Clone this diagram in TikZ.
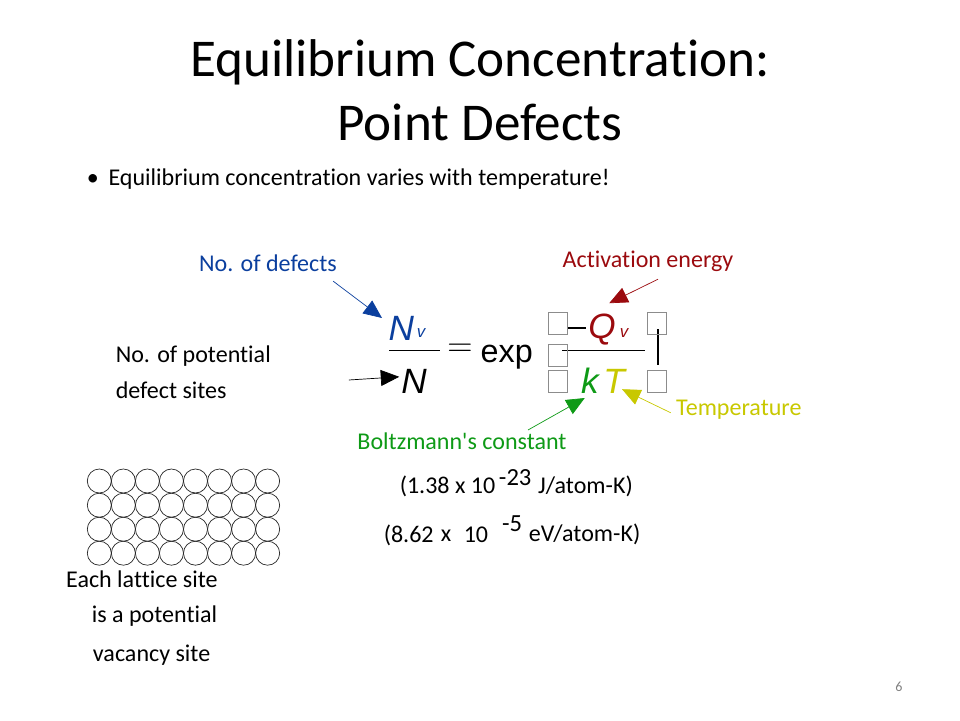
\documentclass[tikz,border=0pt]{standalone}
\usepackage{fontspec}
\setmainfont[Ligatures=NoCommon]{Carlito}
\newfontfamily\eqnfont{Liberation Sans}
\usetikzlibrary{arrows.meta}
\definecolor{defblue}{HTML}{0B3F9E}
\definecolor{actred}{HTML}{9B0A0E}
\definecolor{boltzgreen}{HTML}{0E9A16}
\definecolor{tempyellow}{HTML}{C8C800}
\tikzset{
  titletext/.style={font=\fontsize{37.8}{44}\selectfont},
  bodytext/.style={font=\fontsize{17.1}{20}\selectfont},
  eqnbig/.style={font=\eqnfont\itshape\fontsize{25}{29}\selectfont},
  eqnsub/.style={font=\eqnfont\itshape\fontsize{12}{14}\selectfont},
  tofubox/.style={draw=gray!90,line width=0.5pt,minimum width=0.47cm,minimum height=0.56cm,inner sep=0pt},
  site/.style={draw=black!85,line width=0.5pt,circle,minimum size=0.6cm,inner sep=0pt},
  pointer/.style={-{Triangle[length=0.46cm,width=0.4cm]},line width=0.5pt},
}
\begin{document}
\begin{tikzpicture}
\useasboundingbox (0,0) rectangle (24,18);
%---------------------------------------------------
\node[titletext] (titleA) at (12,16.43) {Equilibrium Concentration:};
\node[titletext] (titleB) at (12,14.95) {Point Defects};
\node[bodytext,anchor=west] (bullet) at (2.05,13.52) {•\hspace{0.24cm}Equilibrium concentration varies with temperature!};
%---------------------------------------------------
\node[bodytext,color=defblue] (ndef) at (6.7,11.43) {No. of defects};
\node[bodytext,color=actred] (aen) at (16.2,11.47) {Activation energy};
\node[bodytext,color=tempyellow] (tmp) at (18.47,7.75) {Temperature};
\node[bodytext,color=boltzgreen] (bol) at (11.55,6.98) {Boltzmann\textquotesingle s constant};
\node[bodytext,anchor=west] (potA) at (2.77,9.11) {No. of potential};
\node[bodytext,anchor=west] (potB) at (2.77,8.24) {defect sites};
%---------------------------------------------------
\node[eqnbig,color=defblue] (nv) at (10.03,9.78) {N};
\node[eqnsub,color=defblue] (nvs) at (10.53,9.68) {v};
\node[eqnbig] (nn) at (10.35,8.47) {N};
\node[eqnbig,color=actred] (qv) at (15.05,9.76) {Q};
\node[eqnsub,color=actred] (qvs) at (15.6,9.68) {v};
\node[eqnbig,color=boltzgreen] (kk) at (14.75,8.47) {k};
\node[eqnbig,color=tempyellow] (tt) at (15.35,8.47) {T};
\node[font=\fontsize{24}{28}\selectfont] (eq) at (11.5,9.25) {$=$};
\node[font=\eqnfont\fontsize{23}{27}\selectfont] (ex) at (12.67,9.08) {exp};
\coordinate (nbarL) at (9.73,9.23);
\coordinate (nbarR) at (11,9.23);
\draw[line width=0.5pt] (nbarL) -- (nbarR);
\coordinate (qbarL) at (14.05,9.23);
\coordinate (qbarR) at (16.13,9.23);
\draw[line width=0.5pt] (qbarL) -- (qbarR);
\coordinate (minL) at (14.2,9.8);
\coordinate (minR) at (14.65,9.8);
\draw[line width=0.9pt] (minL) -- (minR);
\coordinate (vertT) at (16.45,9.77);
\coordinate (vertB) at (16.45,8.87);
\draw[line width=0.9pt] (vertT) -- (vertB);
%---------------------------------------------------
\node[tofubox] (boxA) at (13.95,9.92) {};
\node[tofubox] (boxB) at (13.95,9.12) {};
\node[tofubox] (boxC) at (13.95,8.47) {};
\node[tofubox] (boxD) at (16.42,9.92) {};
\node[tofubox] (boxE) at (16.42,8.47) {};
%---------------------------------------------------
\coordinate (ndefS) at (8.33,10.97);
\coordinate (nvT) at (9.55,10.05);
\draw[pointer,color=defblue] (ndefS) -- (nvT);
\coordinate (aenS) at (16.45,11.02);
\coordinate (aenT) at (15.23,10.42);
\draw[pointer,color=actred] (aenS) -- (aenT);
\coordinate (tmpS) at (16.77,7.68);
\coordinate (tmpT) at (15.55,8.27);
\draw[pointer,color=tempyellow] (tmpS) -- (tmpT);
\coordinate (bolS) at (13.2,7.25);
\coordinate (bolT) at (14.62,8.05);
\draw[pointer,color=boltzgreen] (bolS) -- (bolT);
\coordinate (nnS) at (8.72,8.5);
\coordinate (nnT) at (9.98,8.58);
\draw[pointer] (nnS) -- (nnT);
%---------------------------------------------------
\node[bodytext,anchor=west] (kA) at (9.87,5.84) {(1.38 x 10};
\node[font=\fontsize{17.5}{21}\selectfont,anchor=west] (kB) at (12.35,6.05) {-23};
\node[bodytext,anchor=west] (kC) at (13.33,5.84) {J/atom-K)};
\node[bodytext,anchor=west] (evA) at (9.47,4.62) {(8.62};
\node[bodytext,anchor=west] (evB) at (10.9,4.6) {x};
\node[bodytext,anchor=west] (evC) at (11.47,4.64) {10};
\node[font=\fontsize{17.5}{21}\selectfont,anchor=west] (evD) at (12.43,4.92) {-5};
\node[bodytext,anchor=west] (evE) at (13.1,4.64) {eV/atom-K)};
%---------------------------------------------------
\foreach \r/\py in {1/481,2/505.2,3/529.2,4/553.2}
  \foreach \c in {0,...,7}
    \node[site] (site\r\c) at ({(99.3+24.05*\c)/40},{(720-\py)/40}) {};
%---------------------------------------------------
\node[bodytext,anchor=west] (latA) at (1.53,3.53) {Each lattice site};
\node[bodytext,anchor=west] (latB) at (2.17,2.6) {is a potential};
\node[bodytext,anchor=west] (latC) at (2.2,1.62) {vacancy site};
\node[font=\fontsize{10}{12}\selectfont,color=gray] (pg) at (22.47,0.83) {6};
\end{tikzpicture}
\end{document}
